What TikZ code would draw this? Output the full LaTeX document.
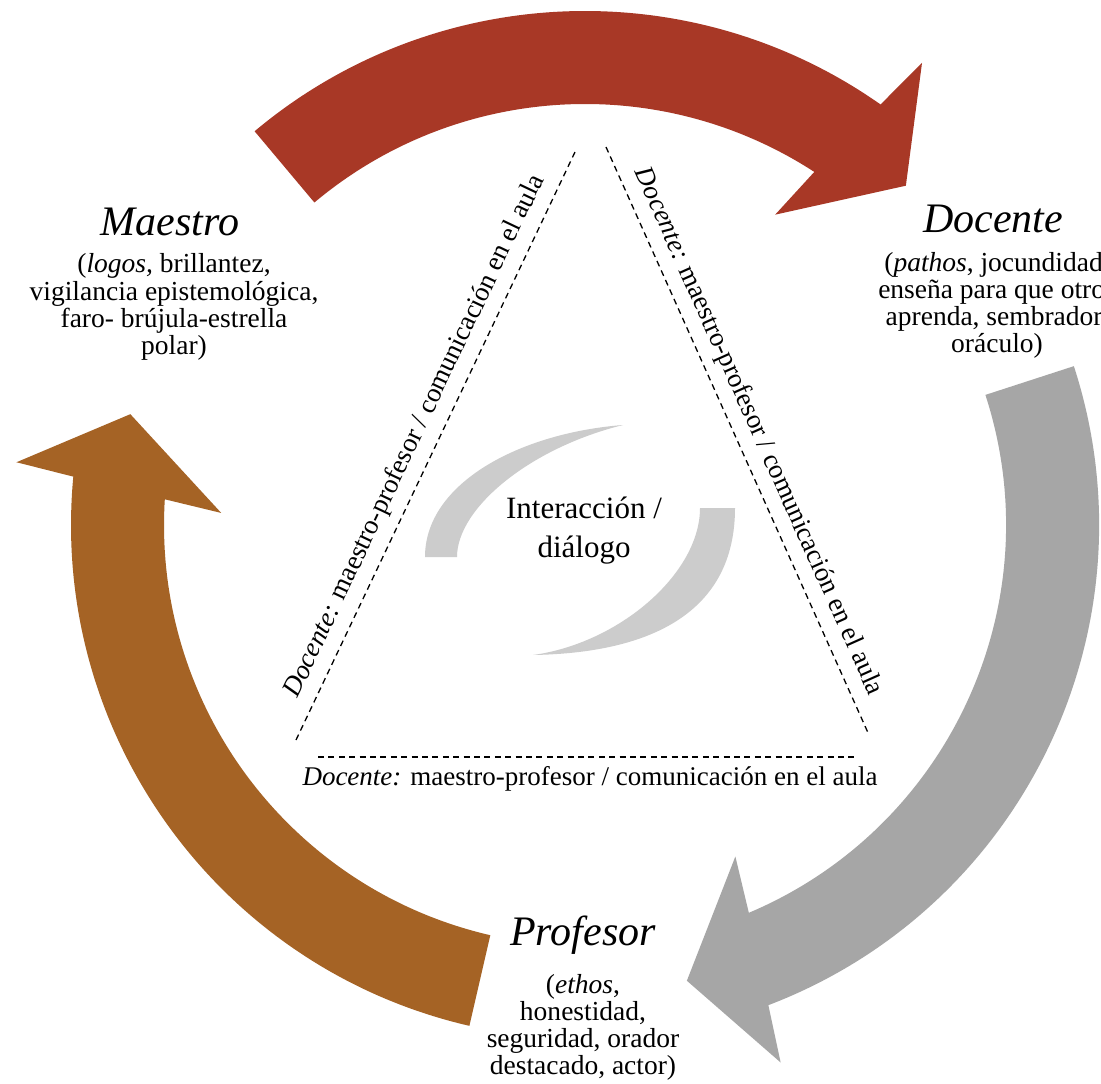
\documentclass[tikz,border=0pt]{standalone}
\usepackage{fontspec}
\setmainfont{Liberation Serif}
\definecolor{redc}{RGB}{168,56,38}
\definecolor{brownc}{RGB}{165,99,37}
\definecolor{grayc}{RGB}{166,166,166}
\definecolor{swooshc}{RGB}{204,204,204}
\newcommand{\blk}[1]{\begin{tabular}[t]{@{}c@{}}#1\end{tabular}}
\begin{document}
\begin{tikzpicture}[x=0.5pt,y=0.5pt,
  titletext/.style={font=\fontsize{21}{24}\selectfont\itshape, inner sep=0pt, anchor=base},
  bodytext/.style={font=\fontsize{13.75}{13.25}\selectfont, inner sep=0pt, anchor=base},
  centertext/.style={font=\fontsize{15.5}{19.5}\selectfont, inner sep=0pt, anchor=base},
  labeltext/.style={font=\fontsize{13.5}{16}\selectfont, inner sep=0pt},
  dashline/.style={draw=black, line width=0.65pt, dash pattern=on 3pt off 2.2pt}]
\useasboundingbox (0,0) rectangle (1101,1083);
\clip (0,0) rectangle (1101,1083);
\fill[white] (0,0) rectangle (1101,1083);

% cycle arrows
\begin{scope}[shift={(585,558)}]
\fill[redc] (130:514) arc[start angle=130, end angle=54.9, radius=514]
  -- (53.9:572) -- (46.6:467) -- (58.5:364) -- (57:421)
  arc[start angle=57, end angle=130, radius=421] -- cycle;
\fill[grayc] (18:514) arc[start angle=18, end angle=-69.1, radius=514]
  -- (-70:572) -- (-77.4:467) -- (-65.6:364) -- (-67.1:421)
  arc[start angle=-67.1, end angle=18, radius=421] -- cycle;
\fill[brownc] (257:514) arc[start angle=257, end angle=174.6, radius=514]
  -- (173.7:572) -- (166.3:468) -- (178.1:364) -- (176.5:421)
  arc[start angle=176.5, end angle=257, radius=421] -- cycle;
\end{scope}

% central swooshes
\fill[swooshc] (623,658) .. controls (520,650) and (425,600) .. (425,526)
  -- (457,526) .. controls (457,575) and (530,635) .. (623,658) -- cycle;
\fill[swooshc] (735,575) .. controls (735,470) and (650,430) .. (533,428)
  .. controls (620,440) and (700,510) .. (700,575) -- cycle;

% triangle
\coordinate (L1) at (296,343);
\coordinate (L2) at (575,931);
\coordinate (R1) at (606,936);
\coordinate (R2) at (869,348);
\coordinate (B1) at (318,326);
\coordinate (B2) at (858,326);
\draw[dashline] (L1) -- (L2);
\draw[dashline] (R1) -- (R2);
\draw[dashline] (B1) -- (B2);
\path (L1) -- node[labeltext, sloped, anchor=south, yshift=5pt] (labL) {\textit{Docente:} maestro-profesor / comunicación en el aula} (L2);
\path (R1) -- node[labeltext, sloped, anchor=south, yshift=5pt] (labR) {\textit{Docente:} maestro-profesor / comunicación en el aula} (R2);
\node[labeltext, anchor=base] (labB) at (590,298) {\textit{Docente:} maestro-profesor / comunicación en el aula};

% texts
\node[centertext] (inter) at (584,565) {\blk{Interacción /\\diálogo}};

\node[titletext] (maestro) at (170,847) {Maestro};
\node[bodytext] (maestroB) at (174,810) {\blk{(\textit{logos,} brillantez,\\vigilancia epistemológica,\\faro- brújula-estrella\\polar)}};

\node[titletext] (docente) at (993,850) {Docente};
\node[bodytext] (docenteB) at (997,811) {\blk{(\textit{pathos}, jocundidad,\\enseña para que otros\\aprenda, sembrador,\\oráculo)}};

\node[titletext] (profesor) at (583,138) {Profesor};
\node[bodytext] (profesorB) at (583,90) {\blk{(\textit{ethos},\\honestidad,\\seguridad, orador\\destacado, actor)}};
\end{tikzpicture}
\end{document}
